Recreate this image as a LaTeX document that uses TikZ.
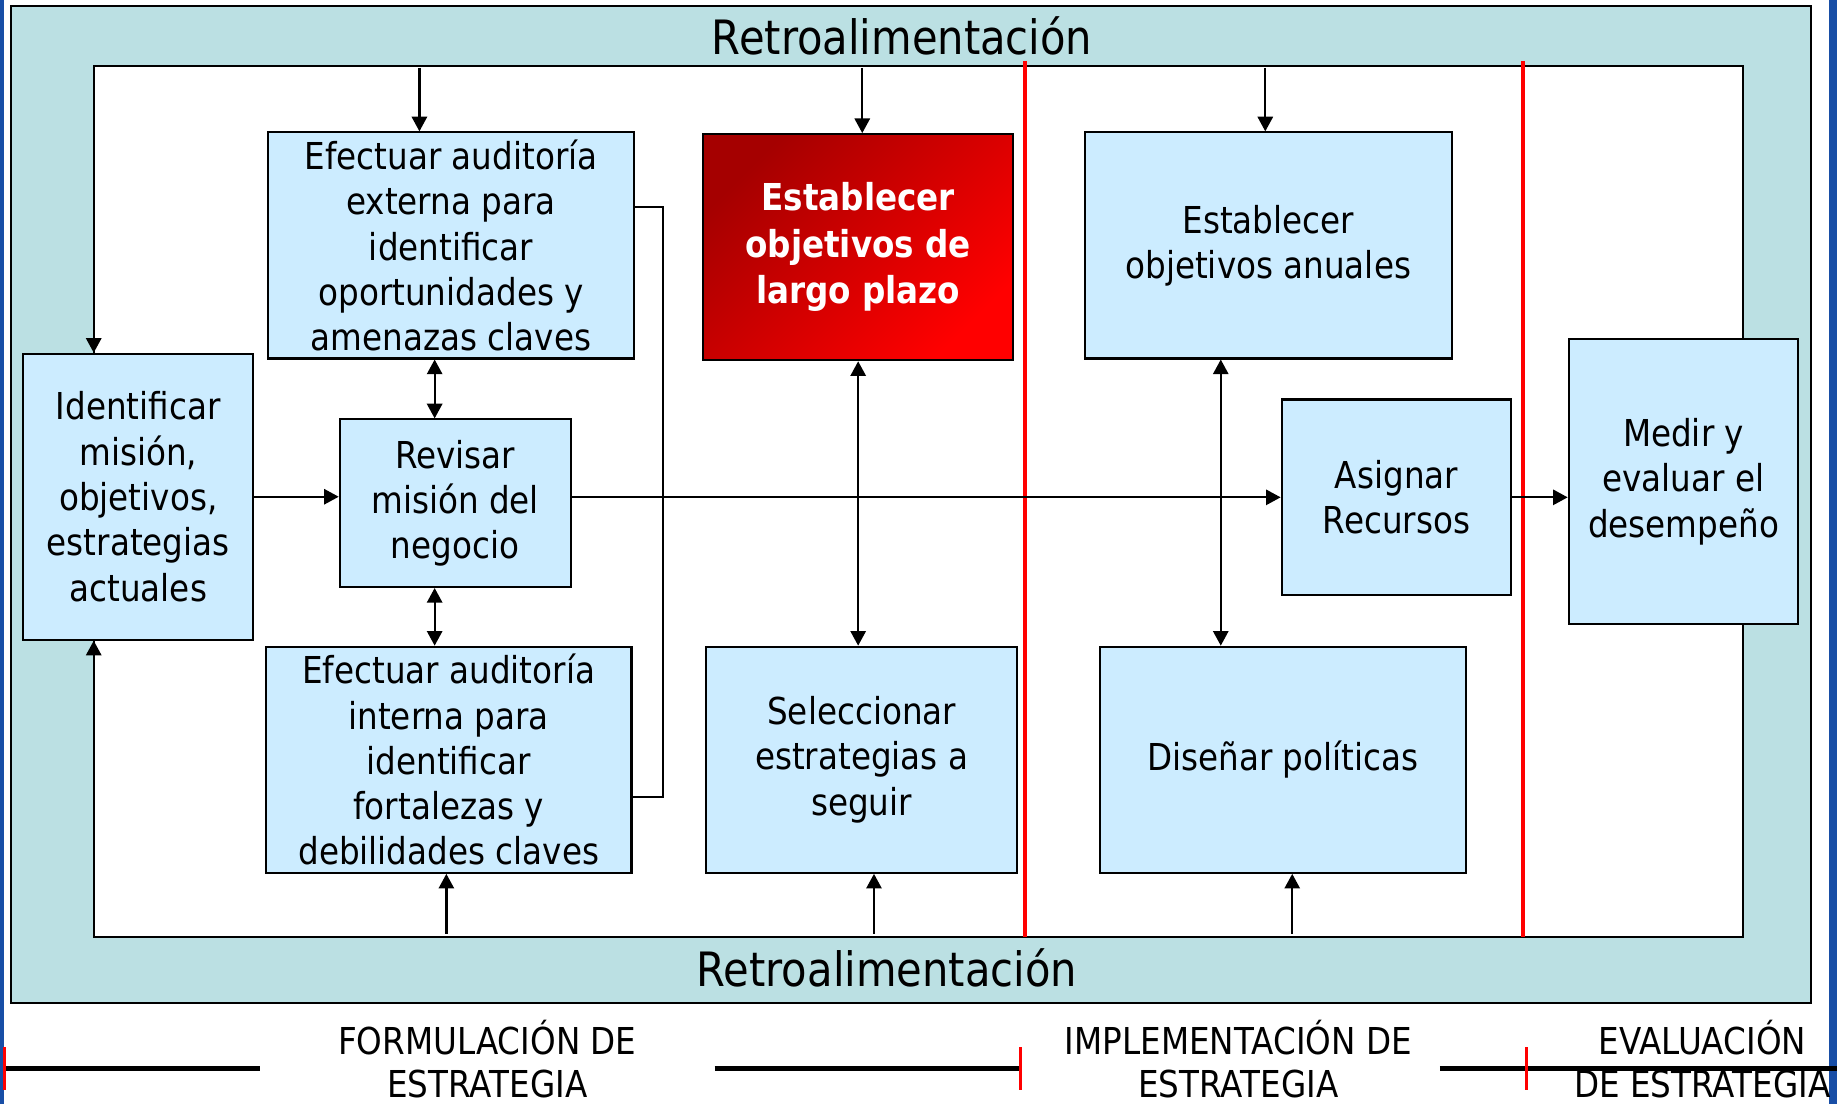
\documentclass[tikz,border=0pt]{standalone}
\usepackage{fontspec}
\setmainfont{DejaVu Sans}[FakeStretch=0.88]
\usepackage{xcolor}
\usetikzlibrary{arrows.meta, positioning, calc}
\definecolor{bandteal}{RGB}{187,224,227}
\definecolor{boxblue}{RGB}{204,236,255}
\definecolor{slideblue}{RGB}{24,78,166}
\definecolor{darkred}{RGB}{165,0,0}
\definecolor{brightred}{RGB}{255,0,0}
\tikzstyle{stagebox} = [rectangle, draw=black, line width=1pt, fill=boxblue, align=center, inner sep=0pt, font=\fontsize{18}{22}\selectfont]
\tikzstyle{arrow} = [line width=1.1pt, -{Triangle[length=2.5mm, width=2.6mm]}]
\tikzstyle{biarrow} = [line width=1.1pt, {Triangle[length=2.5mm, width=2.6mm]}-{Triangle[length=2.5mm, width=2.6mm]}]
\tikzstyle{phase} = [align=center, font=\fontsize{18}{21}\selectfont]

\begin{document}
\begin{tikzpicture}[x=0.2mm, y=-0.2mm]
    \useasboundingbox (0,0) rectangle (1568,942);
    % slide edges
    \fill[slideblue] (0,0) rectangle (3,942);
    \fill[slideblue] (1561,0) rectangle (1568,942);

    % Feedback band and frame
    \node[draw=black, line width=1pt, fill=bandteal, minimum width=30.74cm, minimum height=17.02cm, inner sep=0pt] (band) at (777.5,430.5) {};
    \node[draw=black, line width=1pt, fill=white, minimum width=28.16cm, minimum height=14.88cm, inner sep=0pt] (frame) at (784,428) {};
    \node[font=\fontsize{23}{27}\selectfont] (fbtop) at (770,31) {Retroalimentación};
    \node[font=\fontsize{23}{27}\selectfont] (fbbot) at (757,826) {Retroalimentación};

    % Phase dividers
    \draw[red, line width=1.8pt] (875,52) -- (875,800);
    \draw[red, line width=1.8pt] (1300,52) -- (1300,800);

    % Formulation
    \node[stagebox, minimum width=3.92cm, minimum height=4.88cm] (ident) at (118,424) {Identificar\\misión,\\objetivos,\\estrategias\\actuales};
    \node[stagebox, minimum width=6.24cm, minimum height=3.86cm] (ext) at (385,209.5) {Efectuar auditoría\\externa para\\identificar\\oportunidades y\\amenazas claves};
    \node[stagebox, minimum width=3.94cm, minimum height=2.86cm] (rev) at (388.5,429.5) {Revisar\\misión del\\negocio};
    \node[stagebox, minimum width=6.24cm, minimum height=3.86cm] (int) at (383,648.5) {Efectuar auditoría\\interna para\\identificar\\fortalezas y\\debilidades claves};
    \node[stagebox, minimum width=5.30cm, minimum height=3.86cm, left color=darkred, right color=brightred, shading angle=45, text=white, font=\fontsize{18}{22.5}\selectfont\bfseries] (longterm) at (732.5,211) {Establecer\\objetivos de\\largo plazo};
    \node[stagebox, minimum width=5.30cm, minimum height=3.86cm] (select) at (735.5,648.5) {Seleccionar\\estrategias a\\seguir};

    % Implementation
    \node[stagebox, minimum width=6.26cm, minimum height=3.86cm] (annual) at (1082.5,209.5) {Establecer\\objetivos anuales};
    \node[stagebox, minimum width=3.92cm, minimum height=3.34cm] (assign) at (1192,424.5) {Asignar\\Recursos};
    \node[stagebox, minimum width=6.24cm, minimum height=3.86cm] (policy) at (1095,648.5) {Diseñar políticas};

    % Evaluation
    \node[stagebox, minimum width=3.92cm, minimum height=4.88cm] (measure) at (1437,411) {Medir y\\evaluar el\\desempeño};

    % Feedback arrows from the frame
    \coordinate (inA) at (358,58);
    \coordinate (inB) at (736,58);
    \coordinate (inC) at (1080,58);
    \coordinate (inD) at (381,797);
    \coordinate (inE) at (746,797);
    \coordinate (inF) at (1103,797);
    \coordinate (inL) at (80,213);
    \coordinate (inM) at (80,592);
    \draw[arrow] (inA) -- (inA |- ext.north);
    \draw[arrow] (inB) -- (inB |- longterm.north);
    \draw[arrow] (inC) -- (inC |- annual.north);
    \draw[arrow] (inD) -- (inD |- int.south);
    \draw[arrow] (inE) -- (inE |- select.south);
    \draw[arrow] (inF) -- (inF |- policy.south);
    \draw[arrow] (inL) -- (inL |- ident.north);
    \draw[arrow] (inM) -- (inM |- ident.south);

    % Main flow
    \coordinate (annualfoot) at ($(annual.south)+(-40.5,0)$);
    \draw[arrow] (ident.east) -- (ident.east -| rev.west);
    \draw[arrow] (assign.west -| rev.east) -- (assign.west);
    \draw[arrow] (assign.east) -- (assign.east -| measure.west);
    \draw[biarrow] ($(ext.south)+(-14,0)$) -- ($(rev.north)+(-17.5,0)$);
    \draw[biarrow] ($(rev.south)+(-17.5,0)$) -- ($(int.north)+(-12,0)$);
    \draw[biarrow] (longterm.south) -- (longterm.south |- select.north);
    \draw[biarrow] (annualfoot) -- (annualfoot |- policy.north);
    \draw[line width=1pt] ($(ext.east)+(0,-32.5)$) -- ++(24,0) |- ($(int.east)+(0,31.5)$);

    % Phases legend
    \coordinate (tickA) at (4,912);
    \coordinate (tickB) at (871,912);
    \coordinate (tickC) at (1303,912);
    \draw[line width=2.8pt] (tickA) -- (222,912);
    \draw[line width=2.8pt] (610,912) -- (tickB);
    \draw[line width=2.8pt] (1229,912) -- (1568,912);
    \foreach \t in {tickA, tickB, tickC}
        \draw[red, line width=1.5pt] ($(\t)+(0,-18)$) -- ($(\t)+(0,18)$);
    \node[phase] (form) at (416,904) {FORMULACIÓN DE\\ESTRATEGIA};
    \node[phase] (impl) at (1057,904) {IMPLEMENTACIÓN DE\\ESTRATEGIA};
    \node[phase] (eval) at (1453,904) {EVALUACIÓN\\DE ESTRATEGIA};
\end{tikzpicture}
\end{document}
